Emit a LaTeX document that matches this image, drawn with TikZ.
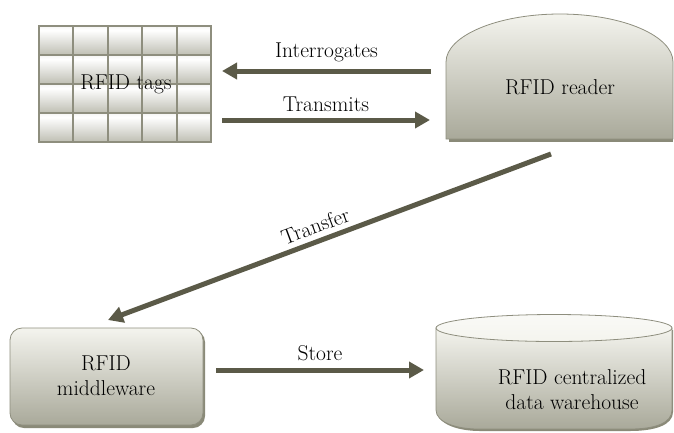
\documentclass[tikz,border=0pt]{standalone}
\usetikzlibrary{arrows.meta,shapes.geometric}
\definecolor{arrowc}{HTML}{5B5A48}
\definecolor{edgec}{HTML}{8E8E7E}
\definecolor{topc}{HTML}{F4F4EE}
\definecolor{botc}{HTML}{A9A99A}
\definecolor{shadc}{HTML}{8A8A78}
\tikzset{
  flowarrow/.style={draw=arrowc, line width=5pt, -{Triangle[length=15pt,width=16pt]}},
  lbl/.style={font=\fontsize{21.5}{25}\selectfont, text=black},
  boxfill/.style={top color=topc, bottom color=botc, draw=edgec, line width=0.8pt},
  cellfill/.style={draw=edgec, line width=2pt, shading=cellshade},
}
\pgfdeclareverticalshading{cellshade}{100bp}{color(0bp)=(botc!80); color(25bp)=(botc!75); color(68bp)=(white); color(100bp)=(botc!55)}
\begin{document}
\begin{tikzpicture}[x=1pt,y=-1pt]
\useasboundingbox (0,0) rectangle (674,432);
% RFID tags grid
\foreach \i in {0,...,4}{
  \foreach \j in {0,...,3}{
    \path[cellfill] ({39+\i*34.4},{26+\j*29}) rectangle ({39+(\i+1)*34.4},{26+(\j+1)*29});
  }
}
\node[lbl, inner sep=0pt] (tags) at (126,84) {RFID tags};
\coordinate (tagsE1) at (222,71);
\coordinate (tagsE2) at (222,120);
% RFID reader
\fill[shadc] (449,142) -- (449,65) -- (673,65) -- (673,142) -- cycle;
\path[boxfill] (446,139) -- (446,62) .. controls (446,36) and (497,14) .. (560,14) .. controls (623,14) and (673,36) .. (673,62) -- (673,139) -- cycle;
\node[lbl] (reader) at (560,87) {RFID reader};
\coordinate (readW1) at (431,71);
\coordinate (readW2) at (430,120);
\coordinate (readS) at (551,154);
% Middleware
\fill[shadc, rounded corners=12pt] (12,330) rectangle (205,428);
\path[boxfill, rounded corners=12pt] (10,328) rectangle (203,425);
\node[lbl, align=center] (mid) at (106,376) {RFID\\middleware};
\coordinate (midN) at (108,320);
\coordinate (midE) at (216,370);
% Warehouse cylinder
\fill[shadc] (438,330) -- (438,412) .. controls (438,425) and (460,431) .. (480,431) -- (630,431) .. controls (655,431) and (673,425) .. (673,412) -- (673,330) -- cycle;
\path[boxfill] (436,328) -- (436,410) .. controls (436,423) and (458,429) .. (478,429) -- (630,429) .. controls (655,429) and (672,423) .. (672,410) -- (672,328) -- cycle;
\path[draw=edgec, line width=0.8pt, top color=topc!50!white, bottom color=topc] (554,328) ellipse [x radius=118, y radius=13.5];
\node[lbl, align=center] (wh) at (572,390) {RFID centralized\\data warehouse};
\coordinate (whW) at (424,370);
% Arrows
\draw[flowarrow] (readW1) -- (tagsE1) node[lbl, midway, above=3pt] (lint) {Interrogates};
\draw[flowarrow] (tagsE2) -- (readW2) node[lbl, midway, above=3pt] (ltr) {Transmits};
\draw[flowarrow] (readS) -- (midN) node[lbl, pos=0.52, sloped, above=2pt] (ltf) {Transfer};
\draw[flowarrow] (midE) -- (whW) node[lbl, midway, above=3pt] (lst) {Store};
\end{tikzpicture}
\end{document}
